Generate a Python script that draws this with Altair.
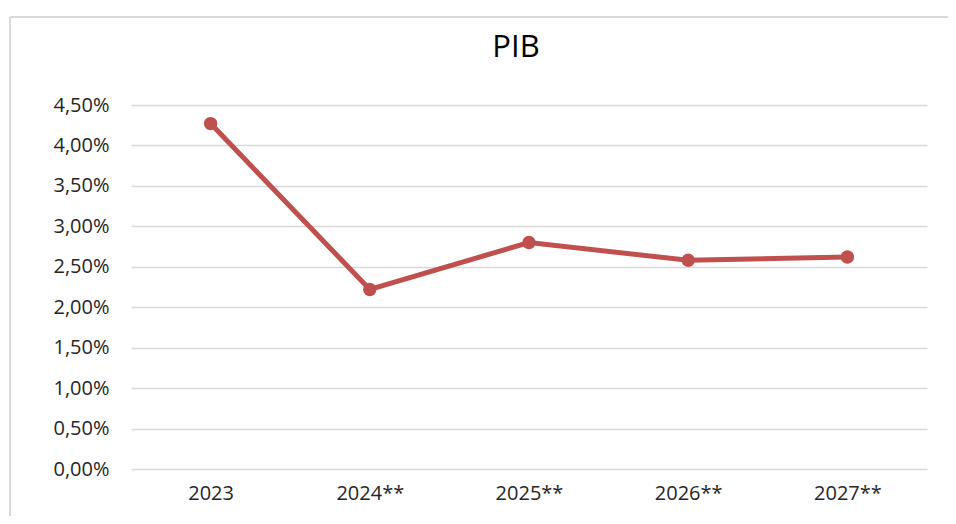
import altair as alt
import pandas as pd

categories = ["2023", "2024**", "2025**", "2026**", "2027**"]
values = [4.27, 2.22, 2.80, 2.58, 2.62]
y_ticks = [0, 0.5, 1.0, 1.5, 2.0, 2.5, 3.0, 3.5, 4.0, 4.5]
title_text = "PIB"

df = pd.DataFrame({"cat": categories, "val": values})
FONT = "Open Sans"
RED = "#c0504d"

x = alt.X("cat:N", sort=categories, title=None,
          scale=alt.Scale(type="point", padding=0.5),
          axis=alt.Axis(labelAngle=0, labelFontSize=20, labelFont=FONT, labelColor="#262626",
                        ticks=False, domain=False, labelPadding=14, grid=False))
y = alt.Y("val:Q", title=None,
          scale=alt.Scale(domain=[0, 4.5], nice=False),
          axis=alt.Axis(values=y_ticks, labelFontSize=20, labelFont=FONT, labelColor="#262626",
                        ticks=False, domain=False, labelPadding=22,
                        gridColor="#d9d9d9", gridWidth=1.4,
                        labelExpr="replace(format(datum.value, '.2f'), '.', ',') + '%'"))

line = alt.Chart(df).mark_line(color=RED, strokeWidth=5).encode(x=x, y=y)
pts = alt.Chart(df).mark_point(color=RED, filled=True, size=180, opacity=1).encode(x=x, y=y)

frame_df = pd.DataFrame({"t": [title_text]})
top_border = alt.Chart(frame_df).mark_rule(color="#d9d9d9", strokeWidth=2).encode(
    x=alt.value(-121), x2=alt.value(900), y=alt.value(-88))
left_border = alt.Chart(frame_df).mark_rule(color="#d9d9d9", strokeWidth=2).encode(
    x=alt.value(-121), y=alt.value(-88), y2=alt.value(440))
title = alt.Chart(frame_df).mark_text(font=FONT, fontSize=31, color="#000000",
                                      align="center", baseline="alphabetic").encode(
    x=alt.value(385), y=alt.value(-48), text="t:N")

chart = alt.layer(top_border, left_border, title, line, pts).properties(
    width=796, height=364,
    background="white",
    autosize=alt.AutoSizeParams(type="none"),
    padding={"left": 123, "top": 97, "right": 21, "bottom": 47},
).configure_view(strokeWidth=0, stroke="transparent")

chart.save("out.html", embed_options={"renderer": "svg", "actions": False})
